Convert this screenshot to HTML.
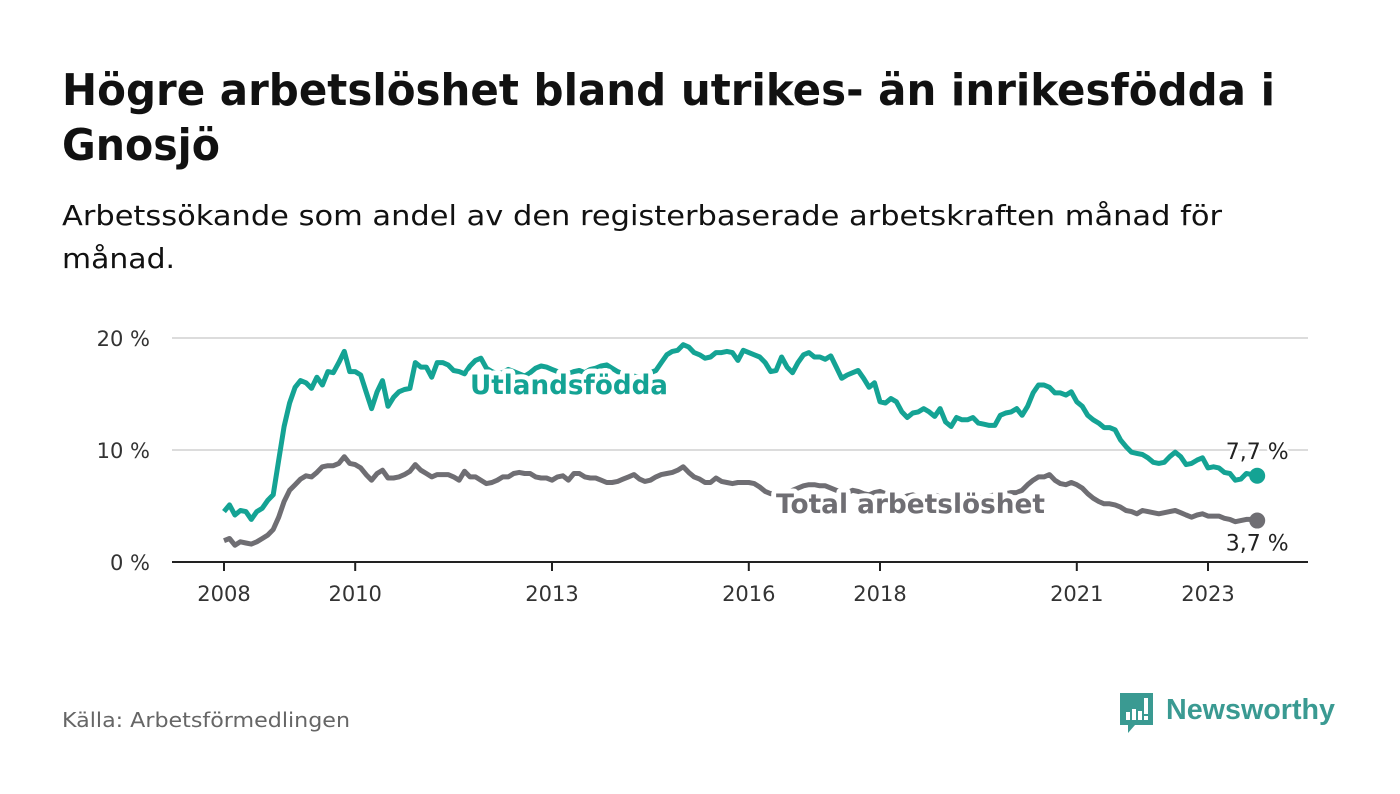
<!DOCTYPE html>
<html><head><meta charset="utf-8"><style>
html,body{margin:0;padding:0;background:#fff;}
svg{display:block;font-family:"DejaVu Sans","Liberation Sans",sans-serif;}
</style></head><body>
<svg id="chart" width="1400" height="794" viewBox="0 0 1400 794" xmlns="http://www.w3.org/2000/svg">
<text x="62" y="105" font-size="44" font-weight="bold" fill="#111" textLength="1213" lengthAdjust="spacingAndGlyphs">Högre arbetslöshet bland utrikes- än inrikesfödda i</text>
<text x="62" y="160" font-size="44" font-weight="bold" fill="#111" textLength="158" lengthAdjust="spacingAndGlyphs">Gnosjö</text>
<text x="62" y="225" font-size="28" fill="#111" textLength="1160" lengthAdjust="spacingAndGlyphs">Arbetssökande som andel av den registerbaserade arbetskraften månad för</text>
<text x="62" y="268" font-size="28" fill="#111" textLength="113" lengthAdjust="spacingAndGlyphs">månad.</text>
<g id="grid"></g>
<g id="series"></g>
<g id="labels"></g>
<text x="62" y="727" font-size="20" fill="#666" textLength="288" lengthAdjust="spacingAndGlyphs">Källa: Arbetsförmedlingen</text>
<g>
<path d="M1120 693 h33 v32 h-18 l-7 8 v-8 h-8 z" fill="#3a9a92"/>
<rect x="1126" y="712" width="4" height="8" fill="#fff"/><rect x="1132" y="709" width="4" height="11" fill="#fff"/><rect x="1138" y="711" width="4" height="9" fill="#fff"/><rect x="1144" y="698" width="4" height="16" fill="#fff"/><rect x="1144" y="716" width="4" height="4" fill="#fff"/>
<text x="1166" y="719" font-size="29" font-weight="bold" fill="#3a9a92" font-family="Liberation Sans, sans-serif" textLength="169" lengthAdjust="spacingAndGlyphs">Newsworthy</text>
</g>
</svg>
<script>
const yTicks=[0,10,20];
const yTickLabels=["0 %","10 %","20 %"];
const xTickYears=[2008,2010,2013,2016,2018,2021,2023];
const startYear=2008;
const utland=[4.5,5.1,4.2,4.6,4.5,3.8,4.5,4.8,5.5,6.0,9.1,12.1,14.2,15.6,16.2,16.0,15.5,16.5,15.8,17.0,16.9,17.8,18.8,17.0,17.0,16.7,15.2,13.7,15.2,16.2,13.9,14.7,15.2,15.4,15.5,17.8,17.4,17.4,16.5,17.8,17.8,17.6,17.1,17.0,16.8,17.5,18.0,18.2,17.3,17.0,16.8,16.9,17.2,17.0,16.8,16.6,16.9,17.3,17.5,17.4,17.2,17.0,16.9,16.8,17.0,17.1,16.9,17.2,17.3,17.5,17.6,17.3,17.0,16.8,16.7,16.6,16.5,16.7,16.9,17.1,17.8,18.5,18.8,18.9,19.4,19.2,18.7,18.5,18.2,18.3,18.7,18.7,18.8,18.7,18.0,18.9,18.7,18.5,18.3,17.8,17.0,17.1,18.3,17.4,16.9,17.8,18.5,18.7,18.3,18.3,18.1,18.4,17.4,16.4,16.7,16.9,17.1,16.4,15.6,16.0,14.3,14.2,14.6,14.3,13.4,12.9,13.3,13.4,13.7,13.4,13.0,13.7,12.5,12.1,12.9,12.7,12.7,12.9,12.4,12.3,12.2,12.2,13.1,13.3,13.4,13.7,13.1,13.9,15.1,15.8,15.8,15.6,15.1,15.1,14.9,15.2,14.3,13.9,13.1,12.7,12.4,12.0,12.0,11.8,10.9,10.3,9.8,9.7,9.6,9.3,8.9,8.8,8.9,9.4,9.8,9.4,8.7,8.8,9.1,9.3,8.4,8.5,8.4,8.0,7.9,7.3,7.4,7.9,7.8,7.7];
const total=[1.9,2.1,1.5,1.8,1.7,1.6,1.8,2.1,2.4,2.9,4.0,5.4,6.4,6.9,7.4,7.7,7.6,8.0,8.5,8.6,8.6,8.8,9.4,8.8,8.7,8.4,7.8,7.3,7.9,8.2,7.5,7.5,7.6,7.8,8.1,8.7,8.2,7.9,7.6,7.8,7.8,7.8,7.6,7.3,8.1,7.6,7.6,7.3,7.0,7.1,7.3,7.6,7.6,7.9,8.0,7.9,7.9,7.6,7.5,7.5,7.3,7.6,7.7,7.3,7.9,7.9,7.6,7.5,7.5,7.3,7.1,7.1,7.2,7.4,7.6,7.8,7.4,7.2,7.3,7.6,7.8,7.9,8.0,8.2,8.5,8.0,7.6,7.4,7.1,7.1,7.5,7.2,7.1,7.0,7.1,7.1,7.1,7.0,6.7,6.3,6.1,6.2,6.1,6.2,6.4,6.6,6.8,6.9,6.9,6.8,6.8,6.6,6.4,6.3,6.2,6.4,6.3,6.1,6.0,6.2,6.3,6.1,5.9,5.8,5.7,5.9,6.0,5.8,5.7,5.9,6.0,5.8,5.6,5.5,5.6,5.8,5.7,5.6,5.7,5.8,5.9,6.0,5.9,6.1,6.2,6.2,6.4,6.9,7.3,7.6,7.6,7.8,7.3,7.0,6.9,7.1,6.9,6.6,6.1,5.7,5.4,5.2,5.2,5.1,4.9,4.6,4.5,4.3,4.6,4.5,4.4,4.3,4.4,4.5,4.6,4.4,4.2,4.0,4.2,4.3,4.1,4.1,4.1,3.9,3.8,3.6,3.7,3.8,3.8,3.7];
const lastLabels=["7,7 %","3,7 %"];
const NS="http://www.w3.org/2000/svg";
const x0=224, pxPerYear=65.6, y0=562, pxPerUnit=11.2, left=172, right=1308;
function xMonth(i){return x0+i*pxPerYear/12;}
function xYear(y){return x0+(y-startYear)*pxPerYear;}
function yVal(v){return y0-v*pxPerUnit;}
function mk(tag,attrs,parent){const e=document.createElementNS(NS,tag);for(const k in attrs)e.setAttribute(k,attrs[k]);parent.appendChild(e);return e;}
const grid=document.getElementById('grid');
yTicks.forEach((t,i)=>{
  if(t>0){const g=mk('line',{x1:left,x2:right,y1:yVal(t),y2:yVal(t),stroke:'#dcdcdc','stroke-width':2},grid);
  
  }
  const tl=mk('text',{x:150,y:yVal(t)+8,'text-anchor':'end','font-size':21,fill:'#333'},grid);
  tl.textContent=yTickLabels[i];
  
  
});
const ax=mk('line',{x1:left,x2:right,y1:y0,y2:y0,stroke:'#222','stroke-width':2},grid);


xTickYears.forEach(yr=>{
  const x=xYear(yr);
  const tk=mk('line',{x1:x,x2:x,y1:y0,y2:y0+9,stroke:'#222','stroke-width':2},grid);
  
  
  const t=mk('text',{x:x,y:601,'text-anchor':'middle','font-size':21,fill:'#333'},grid);
  t.textContent=yr;
  
  
});
const ser=document.getElementById('series');
function drawLine(arr,color,name){
  const d=arr.map((v,i)=>(i?'L':'M')+xMonth(i).toFixed(1)+' '+yVal(v).toFixed(1)).join(' ');
  const p=mk('path',{d:d,fill:'none',stroke:color,'stroke-width':5,'stroke-linejoin':'round'},ser);
  
  
  const n=arr.length-1;
  const c=mk('circle',{cx:xMonth(n),cy:yVal(arr[n]),r:8,fill:color},ser);
  
  
}
drawLine(total,'#6f6e73','total-line');
drawLine(utland,'#14a394','utland-line');
const lab=document.getElementById('labels');
function label(txt,x,y,color,name,w){
  const t=mk('text',{x:x,y:y,'font-size':27,'font-weight':'bold',fill:color,stroke:'#fff','stroke-width':10,'paint-order':'stroke','stroke-linejoin':'round',textLength:w,lengthAdjust:'spacingAndGlyphs'},lab);
  t.textContent=txt;
  
  
}
label('Utlandsfödda',470,394,'#14a394','utland-label',198);
label('Total arbetslöshet',776,513,'#6f6e73','total-label',269);
const n=utland.length-1;
const v1=mk('text',{x:xMonth(n),y:yVal(utland[n])-17,'text-anchor':'middle','font-size':22,fill:'#222',stroke:'#fff','stroke-width':5,'paint-order':'stroke'},lab);
v1.textContent=lastLabels[0];


const v2=mk('text',{x:xMonth(n),y:yVal(total[n])+30,'text-anchor':'middle','font-size':22,fill:'#222',stroke:'#fff','stroke-width':5,'paint-order':'stroke'},lab);
v2.textContent=lastLabels[1];


</script>
</body></html>
